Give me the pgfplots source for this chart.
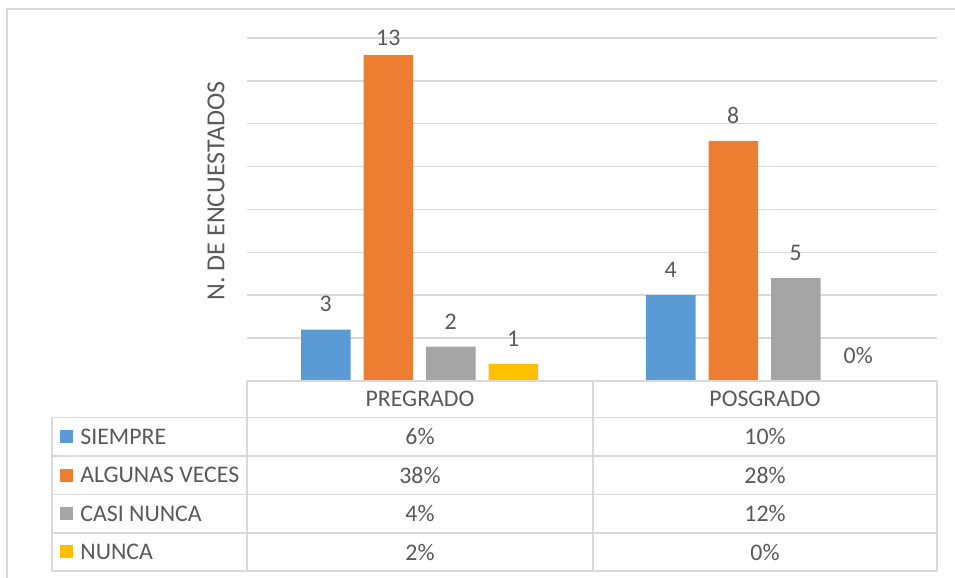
\documentclass[border=0pt]{standalone}
\usepackage{pgfplots}
\pgfplotsset{compat=1.18}
\usepackage{pgfplotstable}
\usepackage{fontspec}
\setmainfont{Carlito}
\definecolor{cBlue}{HTML}{5B9BD5}
\definecolor{cOrange}{HTML}{ED7D31}
\definecolor{cGray}{HTML}{A5A5A5}
\definecolor{cYellow}{HTML}{FFC000}
\definecolor{gridc}{HTML}{D9D9D9}
\definecolor{txt}{HTML}{595959}

\pgfplotstableread{
x y lab off
0 6 3 8.5
1 10 4 8.5
}\siempre
\pgfplotstableread{
x y lab off
0 38 13 4.5
1 28 8 8.5
}\algunas
\pgfplotstableread{
x y lab off
0 4 2 8.5
1 12 5 8.5
}\casi
\pgfplotstableread{
x y lab off
0 2 1 8.5
1 0 0\% 8.5
}\nunca

\newcommand{\fs}{\fontsize{11.9}{14}\selectfont}

\begin{document}
\begin{tikzpicture}[x=0.5pt,y=0.5pt,font=\fs,text=txt]
\path[use as bounding box] (0,0) rectangle (955,578);
\begin{axis}[
  at={(123.5pt,98.5pt)}, anchor=south west,
  width=345pt, height=171.5pt, scale only axis,
  xmin=-0.5, xmax=1.5, ymin=0, ymax=40,
  axis line style={draw=none},
  xtick=\empty,
  ytick={5,10,...,40}, yticklabels={},
  tick style={draw=none}, major tick length=0pt,
  ymajorgrids, grid style={draw=gridc, line width=0.75pt},
  ybar=6.5pt, bar width=24.75pt,
  clip=false,
  nodes near coords,
  point meta=explicit symbolic,
  visualization depends on={\thisrow{off}\as\off},
  every node near coord/.append style={font=\fs, text=txt, inner sep=0pt, anchor=south, yshift=\off pt},
]
\addplot[fill=cBlue, draw=none] table[x=x,y=y,meta=lab] {\siempre};
\addplot[fill=cOrange, draw=none] table[x=x,y=y,meta=lab] {\algunas};
\addplot[fill=cGray, draw=none] table[x=x,y=y,meta=lab] {\casi};
\addplot[fill=cYellow, draw=none] table[x=x,y=y,meta=lab] {\nunca};
\end{axis}

% outer frame (partially visible)
\draw[gridc, line width=0.75pt] (7,0) -- (7,569) -- (955,569);

% y label
\node[rotate=90, font=\fontsize{13}{15}\selectfont] at (216,387) {N. DE ENCUESTADOS};

% data table
\tikzset{tbl/.style={draw=gridc, line width=0.75pt}}
\draw[tbl] (247,197) -- (937,197);
\foreach \yy in {160.5,122,83.5,45,7} \draw[tbl] (52,\yy) -- (937,\yy);
\draw[tbl] (52,160.5) -- (52,7);
\foreach \xx in {247,593,937} \draw[tbl] (\xx,197) -- (\xx,7);

\node at (420,178.75) {PREGRADO};
\node at (765,178.75) {POSGRADO};

\fill[cBlue] (60,134.75) rectangle (73,147.75);
\node[anchor=west, inner sep=0pt] at (80,141.25) {SIEMPRE};
\node at (420,141.25) {6\%};
\node at (765,141.25) {10\%};

\fill[cOrange] (60,96.25) rectangle (73,109.25);
\node[anchor=west, inner sep=0pt] at (80,102.75) {ALGUNAS VECES};
\node at (420,102.75) {38\%};
\node at (765,102.75) {28\%};

\fill[cGray] (60,57.75) rectangle (73,70.75);
\node[anchor=west, inner sep=0pt] at (80,64.25) {CASI NUNCA};
\node at (420,64.25) {4\%};
\node at (765,64.25) {12\%};

\fill[cYellow] (60,19.5) rectangle (73,32.5);
\node[anchor=west, inner sep=0pt] at (80,26) {NUNCA};
\node at (420,26) {2\%};
\node at (765,26) {0\%};
\end{tikzpicture}
\end{document}
